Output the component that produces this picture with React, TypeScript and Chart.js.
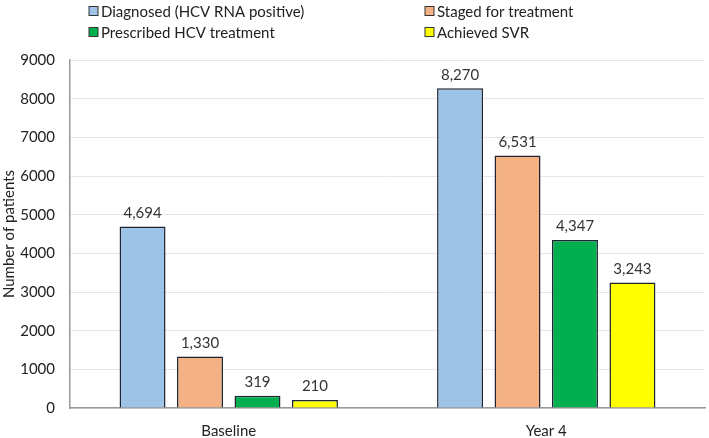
import React, { useEffect, useRef } from "react";
import { Chart, registerables } from "chart.js";

Chart.register(...registerables);

const categories = ["Baseline", "Year 4"];
const seriesNames = [
  "Diagnosed (HCV RNA positive)",
  "Staged for treatment",
  "Prescribed HCV treatment",
  "Achieved SVR",
];
const diagnosed = [4694, 8270];
const staged = [1330, 6531];
const prescribed = [319, 4347];
const achieved = [210, 3243];
const seriesColors = ["#9DC3E6", "#F4B183", "#00B050", "#FFFF00"];
const yTicks = [0, 1000, 2000, 3000, 4000, 5000, 6000, 7000, 8000, 9000];

const FONT = "Lato, 'Open Sans', sans-serif";

const valueLabels = {
  id: "valueLabels",
  afterDatasetsDraw(chart: any) {
    const ctx = chart.ctx;
    ctx.save();
    ctx.font = `15px ${FONT}`;
    ctx.fillStyle = "#333";
    ctx.textAlign = "center";
    ctx.textBaseline = "bottom";
    chart.data.datasets.forEach((ds: any, i: number) => {
      const meta = chart.getDatasetMeta(i);
      meta.data.forEach((bar: any, j: number) => {
        ctx.fillText(Number(ds.data[j]).toLocaleString("en-US"), bar.x, bar.y - 6);
      });
    });
    ctx.restore();
  },
};

const gridLegend = {
  id: "gridLegend",
  afterDraw(chart: any) {
    const ctx = chart.ctx;
    ctx.save();
    ctx.font = `15px ${FONT}`;
    ctx.textBaseline = "middle";
    ctx.textAlign = "left";
    const cols = [89, 425];
    const rows = [11, 32];
    chart.data.datasets.forEach((ds: any, i: number) => {
      const x = cols[i % 2];
      const y = rows[Math.floor(i / 2)];
      ctx.fillStyle = ds.backgroundColor;
      ctx.fillRect(x, y - 4.5, 9, 9);
      ctx.strokeStyle = "#333";
      ctx.lineWidth = 1;
      ctx.strokeRect(x, y - 4.5, 9, 9);
      ctx.fillStyle = "#222";
      ctx.fillText(ds.label, x + 12, y + 1);
    });
    ctx.restore();
  },
};

export default function App() {
  const ref = useRef<HTMLCanvasElement>(null);
  useEffect(() => {
    document.body.style.margin = "0";
    const all = [diagnosed, staged, prescribed, achieved];
    const chart = new Chart(ref.current!, {
      type: "bar",
      data: {
        labels: categories,
        datasets: all.map((d, i) => ({
          label: seriesNames[i],
          data: d,
          backgroundColor: seriesColors[i],
          borderColor: "#1f2530",
          borderWidth: 1.5,
          categoryPercentage: 0.724,
          barPercentage: 0.8,
        })),
      },
      options: {
        animation: false,
        responsive: false,
        maintainAspectRatio: false,
        layout: { padding: { top: 60, right: 4, left: 0, bottom: 0 } },
        plugins: { legend: { display: false }, tooltip: { enabled: false } },
        scales: {
          x: {
            grid: { display: false },
            border: { color: "#999", width: 1.5 },
            ticks: { color: "#222", font: { family: FONT, size: 15 }, padding: 6 },
            afterFit(s: any) {
              s.height = 30;
            },
          },
          y: {
            min: 0,
            max: 9000,
            afterBuildTicks(s: any) {
              s.ticks = yTicks.map((v) => ({ value: v }));
            },
            grid: { color: "#e6e6e6", drawTicks: false },
            border: { color: "#999", width: 1.5 },
            ticks: {
              color: "#222",
              font: { family: FONT, size: 15 },
              padding: 15,
              callback: (v: any) => String(v),
            },
            title: {
              display: true,
              text: "Number of patients",
              color: "#222",
              font: { family: FONT, size: 15 },
              padding: { top: 0, bottom: 0 },
            },
            afterFit(s: any) {
              s.width = 70;
            },
          },
        },
      },
      plugins: [valueLabels, gridLegend],
    });
    return () => chart.destroy();
  }, []);
  return <canvas ref={ref} width={709} height={438} style={{ display: "block" }} />;
}
